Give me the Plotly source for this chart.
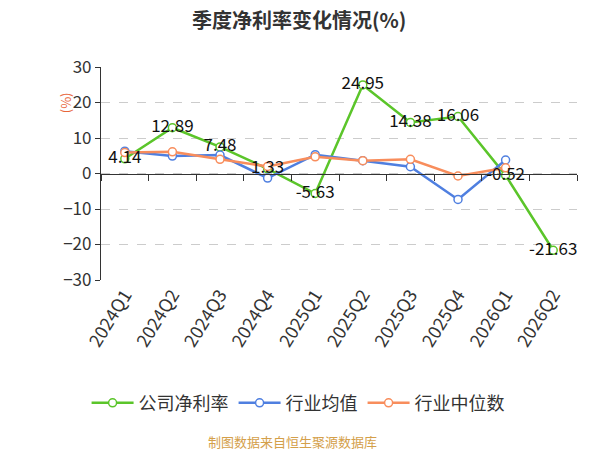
import plotly.graph_objects as go

quarters = ["2024Q1", "2024Q2", "2024Q3", "2024Q4", "2025Q1", "2025Q2",
            "2025Q3", "2025Q4", "2026Q1", "2026Q2"]
company = [4.14, 12.89, 7.48, 1.33, -5.63, 24.95, 14.38, 16.06, -0.52, -21.63]
industry_avg = [6.3, 4.9, 5.2, -1.3, 5.3, 3.6, 1.9, -7.3, 3.8, None]
industry_median = [5.9, 6.1, 4.0, 2.0, 4.7, 3.6, 4.0, -0.7, 1.6, None]
tick_vals = [-30, -20, -10, 0, 10, 20, 30]

GREEN = "#5BC52A"
BLUE = "#4F7FE0"
ORANGE = "#F88D5C"
FONT = "Noto Sans CJK SC"

# the page body adds an 8px offset; size the figure to fit the window
W, H = 592, 442

fig = go.Figure()

def add_series(name, vals, color):
    fig.add_trace(go.Scatter(
        x=quarters, y=vals, name=name, mode="lines+markers",
        line=dict(color=color, width=2.5),
        marker=dict(symbol="circle", size=8, color="white",
                    line=dict(color=color, width=1.5)),
        connectgaps=False,
    ))

add_series("公司净利率", company, GREEN)
add_series("行业均值", industry_avg, BLUE)
add_series("行业中位数", industry_median, ORANGE)

# data labels for company series
fig.add_trace(go.Scatter(
    x=quarters, y=company, mode="text",
    text=[f"{v:.2f}" for v in company],
    textposition="middle center",
    textfont=dict(family=FONT, size=17, color="#111"),
    showlegend=False, hoverinfo="skip", xaxis="x2",
))

fig.update_layout(
    width=W, height=H,
    margin=dict(l=93, r=23, t=59, b=170, autoexpand=False),
    paper_bgcolor="white", plot_bgcolor="white",
    font=dict(family=FONT, color="#333"),
    xaxis=dict(type="category", categoryorder="array", categoryarray=quarters,
               range=[-0.5, 9.5], showline=False, showgrid=False, ticks="",
               tickangle=-58, tickfont=dict(family=FONT, size=18, color="#333"),
               zeroline=False, automargin=False),
    xaxis2=dict(type="category", categoryorder="array", categoryarray=quarters,
                range=[-0.5, 9.5], overlaying="x", anchor="free", position=0.5,
                showline=True, linecolor="#333", linewidth=1.2,
                ticks="outside", tickson="boundaries", ticklen=6,
                tickcolor="#333", showticklabels=False, showgrid=False,
                zeroline=False, automargin=False),
    yaxis=dict(range=[-30, 30], tickvals=tick_vals, showline=True,
               linecolor="#333", linewidth=1.2, ticks="outside", ticklen=5,
               tickcolor="#333", showgrid=True, gridcolor="#cccccc",
               griddash="dash", gridwidth=1, zeroline=False, automargin=False,
               tickfont=dict(family=FONT, size=17, color="#333")),
    legend=dict(orientation="h", xref="container", x=0.49, xanchor="center",
                yref="container", y=0.106, yanchor="middle",
                font=dict(family=FONT, size=18, color="#333"),
                itemwidth=42, traceorder="normal"),
    annotations=[
        dict(text="<b>季度净利率变化情况(%)</b>", xref="paper", yref="paper",
             x=0.416, y=1.225, xanchor="center", yanchor="middle",
             showarrow=False, font=dict(family=FONT, size=20, color="#333")),
        dict(text="(%)", xref="paper", yref="paper", x=-0.097, y=0.89,
             textangle=-90, showarrow=False,
             font=dict(family=FONT, size=13, color="#E8653A")),
        dict(text="制图数据来自恒生聚源数据库", xref="paper", yref="paper",
             x=0.403, y=-0.76, xanchor="center", yanchor="middle",
             showarrow=False, font=dict(family=FONT, size=13, color="#D4A04A")),
    ],
)

fig.write_html("out.html")
